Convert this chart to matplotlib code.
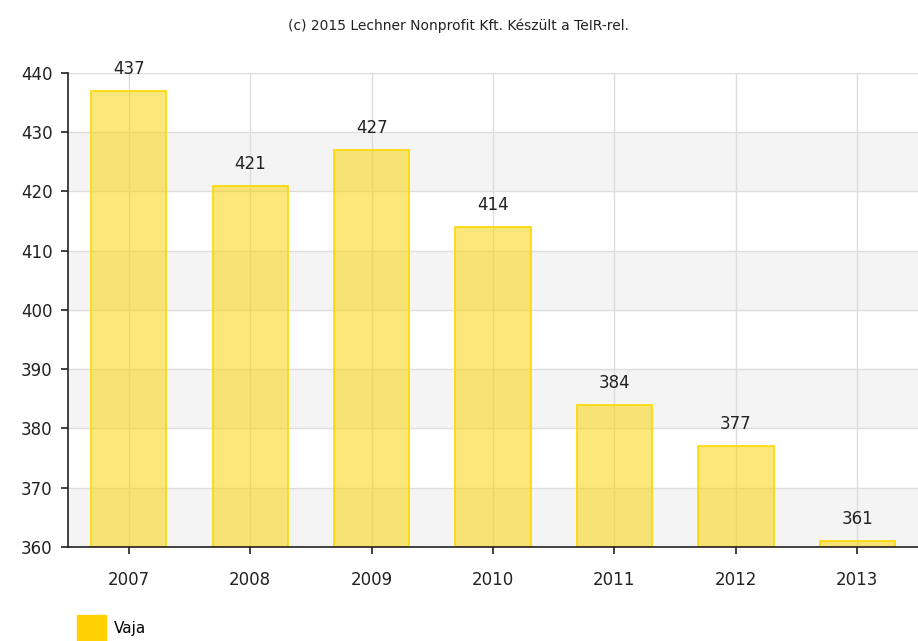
import matplotlib.pyplot as plt
import matplotlib.patches as mpatches

years = ["2007", "2008", "2009", "2010", "2011", "2012", "2013"]
values = [437, 421, 427, 414, 384, 377, 361]
yticks = [360, 370, 380, 390, 400, 410, 420, 430, 440]
series_name = "Vaja"

fig = plt.figure(figsize=(9.18, 6.41), dpi=100)
ax = fig.add_axes([68/918, 1 - 547/641, 850/918, (547 - 73)/641])

# alternating bands
for lo in range(360, 440, 20):
    ax.axhspan(lo, lo + 10, color="#f4f4f4", zorder=0, lw=0)

x = list(range(len(years)))
ax.bar(x, [v - 360 for v in values], bottom=360, width=0.62,
       color=(0.98, 0.83, 0.0, 0.52), edgecolor="#ffd700", linewidth=1.2, zorder=2)

for i, v in enumerate(values):
    ax.text(i, v + 2.2, str(v), ha="center", va="bottom", fontsize=12, color="#222222", zorder=4)

ax.set_xlim(-0.5, 6.5)
ax.set_ylim(360, 440)
ax.set_yticks(yticks)
ax.set_xticks(x)
ax.set_xticklabels(years)
ax.tick_params(labelsize=12, colors="#222222", length=5, width=1.2)
ax.tick_params(axis="x", pad=12)
ax.tick_params(axis="y", pad=6)
ax.grid(True, color="#dddddd", linewidth=1, zorder=1)
ax.set_axisbelow(True)
for s in ["top", "right"]:
    ax.spines[s].set_visible(False)
for s in ["left", "bottom"]:
    ax.spines[s].set_linewidth(1.2)
    ax.spines[s].set_color("#222222")

fig.text(0.5, 1 - 26/641, "(c) 2015 Lechner Nonprofit Kft. Készült a TeIR-rel.",
         ha="center", va="center", fontsize=10, color="#222222")

handle = mpatches.Patch(color="#ffd200", label=series_name)
fig.legend(handles=[handle], loc="lower left", bbox_to_anchor=(63/918, -14/641),
           frameon=False, fontsize=11, handlelength=1.9, handleheight=2.3, handletextpad=0.5)

fig.savefig("out.png", dpi=100)
